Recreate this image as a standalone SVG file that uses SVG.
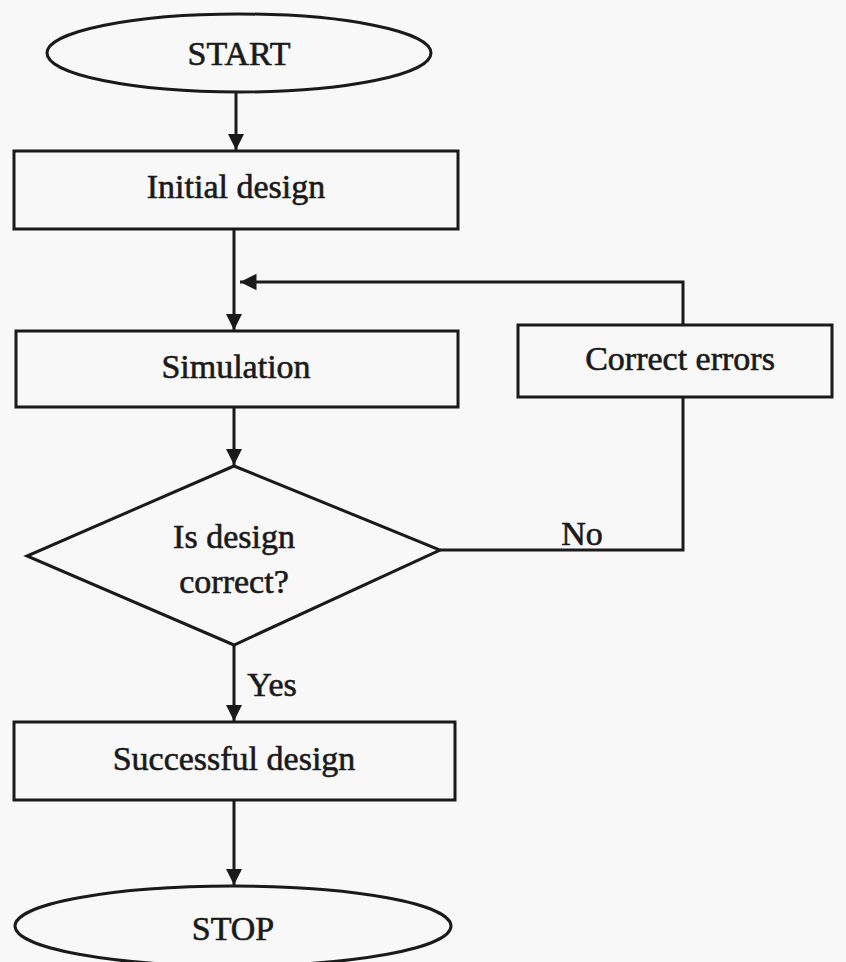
<svg xmlns="http://www.w3.org/2000/svg" width="846" height="962" viewBox="0 0 846 962">
<defs>
<marker id="ah" viewBox="0 0 10 10" refX="10" refY="5" markerWidth="5.5" markerHeight="5.5" markerUnits="strokeWidth" orient="auto">
<path d="M0,0 L10,5 L0,10 Z" fill="#1a1a1a"/>
</marker>
<style>
.s{fill:none;stroke:#1a1a1a;stroke-width:3}
.t{font-family:"Liberation Serif","Times New Roman",serif;font-size:34px;fill:#1a1a1a;stroke:#1a1a1a;stroke-width:0.6;text-anchor:middle}
.c{fill:none;stroke:#1a1a1a;stroke-width:3;marker-end:url(#ah)}
.l{fill:none;stroke:#1a1a1a;stroke-width:3}
</style>
</defs>
<rect width="846" height="962" fill="#f8f8f8"/>
<g id="start">
<ellipse class="s" cx="239" cy="53" rx="192" ry="39"/>
<text class="t" x="239" y="65">START</text>
</g>
<g id="initial">
<rect class="s" x="14" y="151" width="444" height="78"/>
<text class="t" x="236" y="198">Initial design</text>
</g>
<g id="simulation">
<rect class="s" x="16" y="331" width="442" height="76"/>
<text class="t" x="236" y="378">Simulation</text>
</g>
<g id="correct">
<rect class="s" x="518" y="325" width="314" height="72"/>
<text class="t" x="680" y="370">Correct errors</text>
</g>
<g id="decision">
<polygon class="s" points="234,466 440,550 234,645 27,556"/>
<text class="t" x="234" y="548">Is design</text>
<text class="t" x="234" y="593">correct?</text>
</g>
<g id="success">
<rect class="s" x="14" y="722" width="441" height="78"/>
<text class="t" x="234" y="770">Successful design</text>
</g>
<g id="stop">
<ellipse class="s" cx="233" cy="926" rx="218" ry="40"/>
<text class="t" x="233" y="940">STOP</text>
</g>
<g id="connectors">
<path class="c" d="M236,93 V150"/>
<path class="c" d="M234,230 V330"/>
<path class="c" d="M234,407 V465"/>
<path class="c" d="M683,325 V282 H240"/>
<path class="l" d="M440,550 H683 V397"/>
<path class="c" d="M234,645 V721"/>
<path class="c" d="M234,800 V885"/>
<text class="t" x="582" y="545">No</text>
<text class="t" x="272" y="696">Yes</text>
</g>
</svg>
